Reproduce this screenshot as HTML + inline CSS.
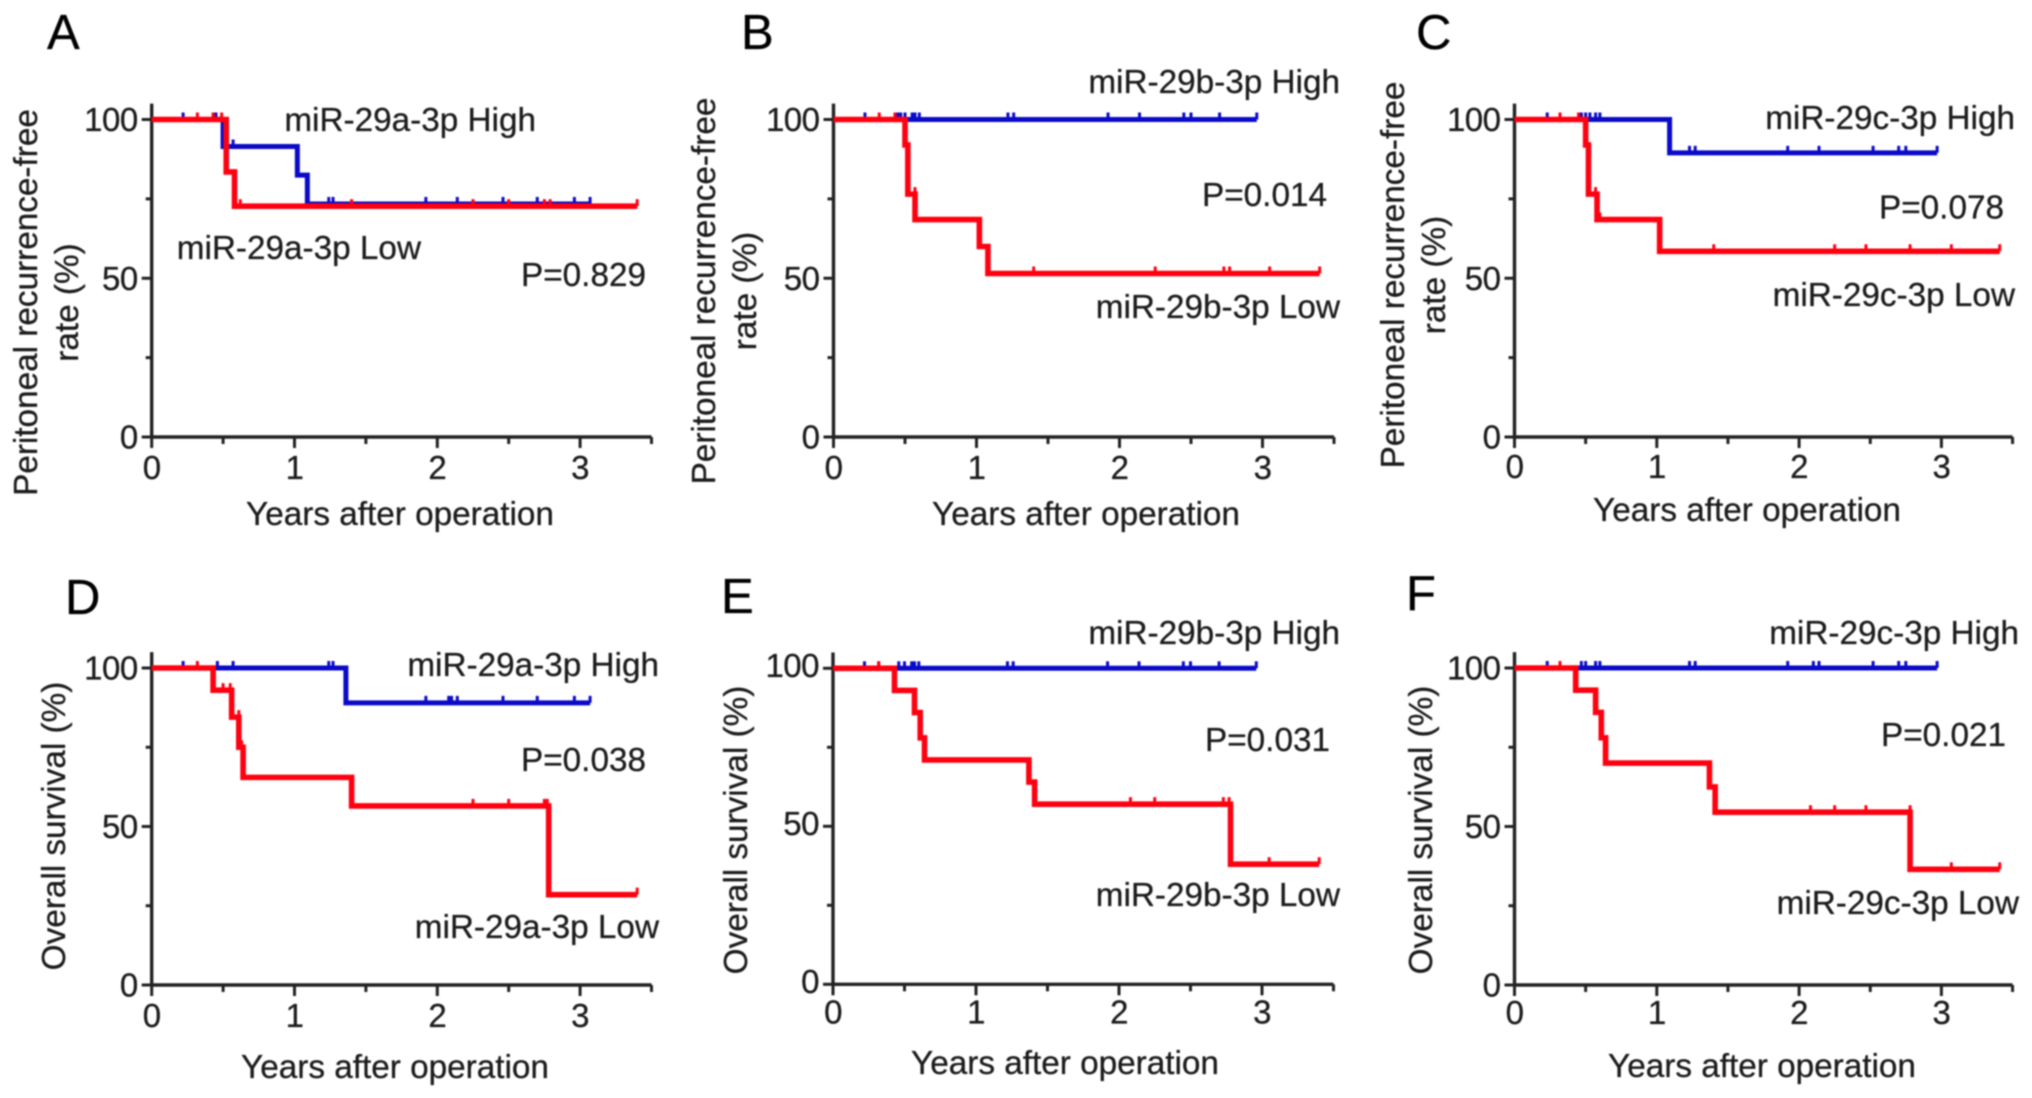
<!DOCTYPE html>
<html lang="en">
<head>
<meta charset="utf-8">
<title>Kaplan-Meier curves for miR-29 expression</title>
<style>
  html, body { margin: 0; padding: 0; background: #fff; }
  #figure { display: block; width: 2032px; height: 1098px; filter: blur(0.8px); }
  text { font-family: "Liberation Sans", Arial, sans-serif; font-size: 33.3px; fill: #1c1c1c; stroke: #1c1c1c; stroke-width: 0.3px; }
  .panel-letter { font-size: 49px; fill: #000; stroke: #000; }
  .tick-num { font-size: 33px; letter-spacing: -0.5px; }
</style>
</head>
<body>
<svg id="figure" xmlns="http://www.w3.org/2000/svg" width="2032" height="1098" viewBox="0 0 2032 1098">
  <rect x="0" y="0" width="2032" height="1098" fill="#fff"/>

  <text class="panel-letter" x="47" y="49">A</text>
  <text class="panel-letter" x="741" y="49">B</text>
  <text class="panel-letter" x="1416" y="49">C</text>
  <text class="panel-letter" x="65" y="614">D</text>
  <text class="panel-letter" x="721" y="613">E</text>
  <text class="panel-letter" x="1406" y="610">F</text>

  <text transform="translate(37 302.5) rotate(-90)" text-anchor="middle">Peritoneal recurrence-free</text>
  <text transform="translate(78 302.5) rotate(-90)" text-anchor="middle">rate (%)</text>
  <text transform="translate(715 291) rotate(-90)" text-anchor="middle">Peritoneal recurrence-free</text>
  <text transform="translate(756 291) rotate(-90)" text-anchor="middle">rate (%)</text>
  <text transform="translate(1404 275) rotate(-90)" text-anchor="middle">Peritoneal recurrence-free</text>
  <text transform="translate(1445 275) rotate(-90)" text-anchor="middle">rate (%)</text>
  <text transform="translate(65 826) rotate(-90)" text-anchor="middle">Overall survival (%)</text>
  <text transform="translate(747 830) rotate(-90)" text-anchor="middle">Overall survival (%)</text>
  <text transform="translate(1432 830) rotate(-90)" text-anchor="middle">Overall survival (%)</text>

  <text x="400" y="525" text-anchor="middle">Years after operation</text>
  <text x="1086" y="525" text-anchor="middle">Years after operation</text>
  <text x="1747" y="521" text-anchor="middle">Years after operation</text>
  <text x="395" y="1078" text-anchor="middle">Years after operation</text>
  <text x="1065" y="1074" text-anchor="middle">Years after operation</text>
  <text x="1762" y="1077" text-anchor="middle">Years after operation</text>

  <text x="536" y="131" text-anchor="end">miR-29a-3p High</text>
  <text x="421" y="259" text-anchor="end">miR-29a-3p Low</text>
  <text x="646" y="286" text-anchor="end">P=0.829</text>
  <text x="1340" y="93" text-anchor="end">miR-29b-3p High</text>
  <text x="1340" y="318" text-anchor="end">miR-29b-3p Low</text>
  <text x="1327" y="206" text-anchor="end">P=0.014</text>
  <text x="2015" y="129" text-anchor="end">miR-29c-3p High</text>
  <text x="2015" y="306" text-anchor="end">miR-29c-3p Low</text>
  <text x="2004" y="218.5" text-anchor="end">P=0.078</text>
  <text x="659" y="676" text-anchor="end">miR-29a-3p High</text>
  <text x="659" y="938" text-anchor="end">miR-29a-3p Low</text>
  <text x="646" y="771" text-anchor="end">P=0.038</text>
  <text x="1340" y="644" text-anchor="end">miR-29b-3p High</text>
  <text x="1340" y="906" text-anchor="end">miR-29b-3p Low</text>
  <text x="1330" y="751" text-anchor="end">P=0.031</text>
  <text x="2019" y="644" text-anchor="end">miR-29c-3p High</text>
  <text x="2019" y="914" text-anchor="end">miR-29c-3p Low</text>
  <text x="2006" y="746" text-anchor="end">P=0.021</text>
</svg>

<script>
// Shared axis ticks
const xTickLabels = [0, 1, 2, 3];
const xMinorTicks = [0.5, 1.5, 2.5, 3.5];
const yTickLabels = [0, 50, 100];
const yMinorTicks = [25, 75];

// Panel A
const aHighTimes = [0.5, 1.02, 1.09, 3.07];
const aHighRates = [100, 91.5, 82.5, 73.4];
const aHighCensors = [0.22, 0.45, 0.57, 1.24, 1.27, 1.92, 2.14, 2.46, 2.7, 2.96, 3.07];
const aLowTimes = [0.522, 0.58, 3.4];
const aLowRates = [100, 83.5, 72.7];
const aLowCensors = [0.32, 0.43, 0.49, 0.62, 1.4, 2.25, 2.5, 2.75, 2.79, 3.4];

// Panel B
const bHighTimes = [2.96];
const bHighRates = [100];
const bHighCensors = [0.22, 0.45, 0.47, 0.5, 0.55, 0.57, 0.6, 1.22, 1.26, 1.92, 2.14, 2.45, 2.5, 2.7, 2.96];
const bLowTimes = [0.5, 0.52, 0.57, 1.02, 1.08, 3.4];
const bLowRates = [100, 92, 76.5, 68.5, 60, 51.5];
const bLowCensors = [0.32, 0.43, 0.57, 1.4, 2.25, 2.73, 2.77, 3.05, 3.4];

// Panel C
const cHighTimes = [1.09, 2.97];
const cHighRates = [100, 89.5];
const cHighCensors = [0.23, 0.47, 0.5, 0.53, 0.57, 0.6, 1.23, 1.27, 1.92, 2.14, 2.52, 2.7, 2.75, 2.97];
const cLowTimes = [0.5, 0.52, 0.58, 1.02, 3.41];
const cLowRates = [100, 92, 76.5, 68.5, 58.5];
const cLowCensors = [0.32, 0.45, 0.57, 0.6, 1.4, 2.25, 2.47, 2.78, 3.07, 3.41];

// Panel D
const dHighTimes = [1.36, 3.07];
const dHighRates = [100, 89];
const dHighCensors = [0.22, 0.46, 0.57, 1.24, 1.27, 1.92, 2.08, 2.1, 2.14, 2.46, 2.7, 2.96, 3.07];
const dLowTimes = [0.43, 0.56, 0.61, 0.64, 1.4, 2.78, 3.4];
const dLowRates = [100, 93, 84.5, 75, 65.5, 56.5, 28.5];
const dLowCensors = [0.32, 0.5, 0.55, 0.61, 0.63, 2.25, 2.5, 2.75, 2.77, 3.4];

// Panel E
const eHighTimes = [2.96];
const eHighRates = [100];
const eHighCensors = [0.22, 0.32, 0.46, 0.5, 0.55, 0.57, 0.6, 1.22, 1.26, 1.92, 2.14, 2.45, 2.5, 2.7, 2.96];
const eLowTimes = [0.43, 0.57, 0.61, 0.64, 1.37, 1.41, 2.78, 3.4];
const eLowRates = [100, 93, 86, 78, 71, 64, 57, 38];
const eLowCensors = [0.32, 2.08, 2.25, 2.73, 2.77, 3.05, 3.4];

// Panel F
const fHighTimes = [2.97];
const fHighRates = [100];
const fHighCensors = [0.23, 0.47, 0.5, 0.57, 0.6, 1.23, 1.27, 1.92, 2.1, 2.14, 2.52, 2.7, 2.75, 2.97];
const fLowTimes = [0.43, 0.57, 0.61, 0.64, 1.37, 1.41, 2.78, 3.41];
const fLowRates = [100, 93, 86, 78, 70, 62.5, 54.5, 36.5];
const fLowCensors = [0.32, 2.08, 2.25, 2.47, 2.78, 3.07, 3.41];

const svg = document.getElementById('figure');
const NS = 'http://www.w3.org/2000/svg';

function make(tag, parent, props) {
  const node = document.createElementNS(NS, tag);
  for (const key in props) node.setAttribute(key, props[key]);
  parent.appendChild(node);
  return node;
}

function stepPath(times, rates, sx, sy) {
  let d = 'M' + sx(0) + ' ' + sy(rates[0]);
  times.forEach(function (t, i) {
    d += ' L' + sx(t) + ' ' + sy(rates[i]);
    if (i + 1 < rates.length) d += ' L' + sx(t) + ' ' + sy(rates[i + 1]);
  });
  return d;
}

function rateAt(t, times, rates) {
  for (let i = 0; i < times.length; i++) {
    if (t <= times[i]) return rates[i];
  }
  return rates[rates.length - 1];
}

function drawSeries(group, key, times, rates, censors, color, width, sx, sy) {
  censors.forEach(function (t) {
    const r = rateAt(t, times, rates);
    const mark = make('line', group, {
      x1: sx(t), x2: sx(t), y1: sy(r), y2: sy(r) - 7,
      stroke: color, 'stroke-width': 3
    });
    
    
  });
  const line = make('path', group, {
    d: stepPath(times, rates, sx, sy),
    fill: 'none', stroke: color, 'stroke-width': width,
    'stroke-linejoin': 'miter', 'stroke-linecap': 'butt'
  });
  
  
}

function drawPanel(id, x0, y100, y0, step, xLabelDy, yLabelDy, high, low) {
  const sx = function (t) { return x0 + t * step; };
  const sy = function (r) { return y0 + (y100 - y0) * r / 100; };
  const group = make('g', svg, {});
  
  

  xTickLabels.forEach(function (t) {
    const tick = make('line', group, { x1: sx(t), x2: sx(t), y1: y0, y2: y0 + 11, stroke: '#222', 'stroke-width': 3 });
    
    
    const label = make('text', group, { x: sx(t), y: y0 + xLabelDy, 'text-anchor': 'middle', class: 'tick-num' });
    
    
    label.textContent = t;
  });
  xMinorTicks.forEach(function (t) {
    const tick = make('line', group, { x1: sx(t), x2: sx(t), y1: y0, y2: y0 + 7, stroke: '#222', 'stroke-width': 3 });
    
    
  });
  yTickLabels.forEach(function (r) {
    const tick = make('line', group, { x1: x0 - 10, x2: x0, y1: sy(r), y2: sy(r), stroke: '#222', 'stroke-width': 3 });
    
    
    const label = make('text', group, { x: x0 - 14, y: sy(r) + yLabelDy, 'text-anchor': 'end', class: 'tick-num' });
    
    
    label.textContent = r;
  });
  yMinorTicks.forEach(function (r) {
    const tick = make('line', group, { x1: x0 - 6, x2: x0, y1: sy(r), y2: sy(r), stroke: '#222', 'stroke-width': 3 });
    
    
  });

  const yAxis = make('line', group, { x1: x0, x2: x0, y1: sy(105), y2: y0 + 1.5, stroke: '#222', 'stroke-width': 3.4 });
  
  
  const xAxis = make('line', group, { x1: x0, x2: sx(3.5), y1: y0, y2: y0, stroke: '#222', 'stroke-width': 3.4 });
  
  

  drawSeries(group, 'high', high[0], high[1], high[2], '#0a0ac8', 5, sx, sy);
  drawSeries(group, 'low', low[0], low[1], low[2], '#ff0010', 5.6, sx, sy);
}

drawPanel('a', 151.7, 119.5, 437, 142.8, 42, 11.5, [aHighTimes, aHighRates, aHighCensors], [aLowTimes, aLowRates, aLowCensors]);
drawPanel('b', 833.5, 119.5, 437, 143, 42, 11.5, [bHighTimes, bHighRates, bHighCensors], [bLowTimes, bLowRates, bLowCensors]);
drawPanel('c', 1514.5, 119.5, 437, 142.3, 41, 11.5, [cHighTimes, cHighRates, cHighCensors], [cLowTimes, cLowRates, cLowCensors]);
drawPanel('d', 151.7, 668, 985, 142.8, 42, 11.5, [dHighTimes, dHighRates, dHighCensors], [dLowTimes, dLowRates, dLowCensors]);
drawPanel('e', 833, 668.3, 984.3, 143, 39, 8.5, [eHighTimes, eHighRates, eHighCensors], [eLowTimes, eLowRates, eLowCensors]);
drawPanel('f', 1514.5, 668, 985, 142.3, 39, 11.5, [fHighTimes, fHighRates, fHighCensors], [fLowTimes, fLowRates, fLowCensors]);
</script>
</body>
</html>
